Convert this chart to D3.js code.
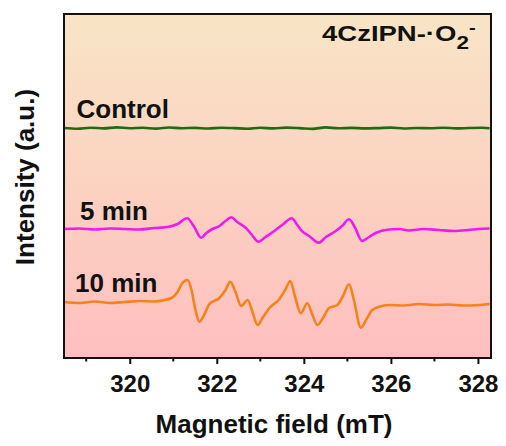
<!DOCTYPE html>
<html>
<head>
<meta charset="utf-8">
<script src="https://cdn.jsdelivr.net/npm/d3@7"></script>
<style>
  body { margin: 0; background: #fff; }
  svg text { font-family: "Liberation Sans", Arial, sans-serif; font-weight: bold; }
</style>
</head>
<body>
<div id="chart"></div>
<script>
// === DATA ===
const seriesNames = ["Control", "5 min", "10 min"];
const seriesColors = ["#1e6b12", "#ee1bee", "#f5821a"];

const controlField = [318.49, 318.8, 319.1, 319.4, 319.7, 320.0, 320.3, 320.6, 320.9, 321.2, 321.5, 321.8, 322.1,
  322.4, 322.7, 323.0, 323.3, 323.6, 323.9, 324.2, 324.5, 324.8, 325.1, 325.4, 325.7, 326.0, 326.3, 326.6,
  326.9, 327.2, 327.5, 327.8, 328.1, 328.27];
const controlValue = [230, 229.3, 230.3, 229.6, 230.6, 229.8, 230.2, 229.4, 230.5, 229.8, 230.1, 229.5, 230.3,
  229.9, 229.2, 230.2, 229.6, 230.4, 229.9, 229.1, 230.6, 229.7, 230.1, 229.6, 229.9, 230.4, 229.5, 230.0,
  229.7, 230.3, 229.6, 230.0, 230.2, 229.8];

const min5Field = [318.49, 318.85, 319.2, 319.54, 319.89, 320.23, 320.57, 320.87, 321.1, 321.32, 321.47, 321.64,
  321.76, 321.9, 322.06, 322.2, 322.33, 322.47, 322.67, 322.79, 322.96, 323.12, 323.32, 323.53, 323.72, 323.85,
  323.97, 324.12, 324.34, 324.51, 324.7, 324.88, 325.04, 325.18, 325.34, 325.5, 325.65, 325.96, 326.19, 326.41,
  326.76, 327.1, 327.45, 327.79, 328.02, 328.27];
const min5Value = [129, 129.5, 128.5, 129.5, 129, 128.5, 130, 131, 134, 139.7, 132, 120.3,
  125, 129, 132, 137, 140.7, 136, 130, 124, 116.3, 121, 127, 134, 139.7, 133,
  126.3, 122, 115.3, 121, 126, 132, 138.7, 130, 117, 121, 125, 128.5, 129, 127.5,
  129, 128, 127, 128, 129, 129.5];

const min10Field = [318.49, 318.85, 319.2, 319.54, 319.89, 320.23, 320.57, 320.8, 320.96, 321.1, 321.21, 321.33,
  321.42, 321.51, 321.6, 321.72, 321.83, 322.06, 322.2, 322.31, 322.43, 322.56, 322.71, 322.82, 322.94, 323.05,
  323.21, 323.44, 323.57, 323.69, 323.8, 323.93, 324.08, 324.19, 324.31, 324.44, 324.58, 324.77, 324.9, 325.04,
  325.15, 325.31, 325.43, 325.57, 325.73, 325.96, 326.3, 326.64, 326.99, 327.33, 327.67, 328.02, 328.27];
const min10Value = [56, 55, 56.5, 55, 56, 57, 56.5, 58, 60, 66, 75, 78,
  68, 48, 36.3, 44, 54, 60, 68, 76.3, 66, 52, 58, 46, 33, 40,
  50, 59, 68, 77, 61, 44.7, 54.7, 44, 33, 40, 50, 53, 62, 73.7,
  58, 30.3, 38, 48, 51.3, 53, 52.5, 54, 53, 53.5, 52.5, 53, 54];

const xTicks = [320, 322, 324, 326, 328];
const xMinorTicks = [319, 321, 323, 325, 327];

// === LAYOUT ===
const width = 506, height = 446;
const margin = { top: 14, right: 15, bottom: 88, left: 64 };
const innerW = width - margin.left - margin.right;
const innerH = height - margin.top - margin.bottom;

const svg = d3.select("#chart").append("svg")
  .attr("width", width)
  .attr("height", height);

const x = d3.scaleLinear().domain([318.49, 328.3]).range([0, innerW]);
const y = d3.scaleLinear().domain([0, 344]).range([innerH, 0]);

// background gradient
const defs = svg.append("defs");
const grad = defs.append("linearGradient")
  .attr("id", "bg-grad")
  .attr("x1", 0).attr("y1", 0).attr("x2", 0).attr("y2", 1);
grad.append("stop").attr("offset", "0%").attr("stop-color", "#f8e5c5");
grad.append("stop").attr("offset", "50%").attr("stop-color", "#fbd2c1");
grad.append("stop").attr("offset", "100%").attr("stop-color", "#ffbfbf");

const g = svg.append("g").attr("transform", `translate(${margin.left},${margin.top})`);

g.append("rect")
  .attr("width", innerW)
  .attr("height", innerH)
  .attr("fill", "url(#bg-grad)");

// === LINES ===
const line = d3.line()
  .x(d => x(d[0]))
  .y(d => y(d[1]))
  .curve(d3.curveMonotoneX);

const allSeries = [
  d3.zip(controlField, controlValue),
  d3.zip(min5Field, min5Value),
  d3.zip(min10Field, min10Value)
];

g.selectAll(".spectrum")
  .data(allSeries)
  .join("path")
  .attr("class", "spectrum")
  .attr("d", line)
  .attr("fill", "none")
  .attr("stroke", (d, i) => seriesColors[i])
  .attr("stroke-width", 2.6)
  .attr("stroke-linejoin", "round");

// series labels
const labelPos = [[12.5, 104.3], [16, 206], [11, 277.7]];
g.selectAll(".series-label")
  .data(seriesNames)
  .join("text")
  .attr("class", "series-label")
  .attr("x", (d, i) => labelPos[i][0])
  .attr("y", (d, i) => labelPos[i][1])
  .attr("font-size", "26px")
  .attr("fill", "#111")
  .text(d => d);

// title in corner (glyphs are drawn wide in the original)
const title = g.append("text")
  .attr("transform", "translate(258,26.7) scale(1.25,1)")
  .attr("font-size", "22px")
  .attr("fill", "#111");
title.append("tspan").text("4CzIPN-·O");
title.append("tspan").attr("font-size", "18px").attr("dy", 8).text("2");
title.append("tspan").attr("font-size", "16px").attr("dy", -16).text("-");

// === AXES ===
const xAxis = g.append("g")
  .attr("transform", `translate(0,${innerH})`)
  .call(d3.axisBottom(x).tickValues(xTicks).tickSize(6).tickPadding(11).tickFormat(d3.format("d")));
xAxis.select(".domain").remove();
xAxis.selectAll("line").attr("stroke", "#111").attr("stroke-width", 2);
xAxis.selectAll("text")
  .attr("font-size", "24px")
  .attr("fill", "#111")
  .style("font-family", "'Liberation Sans', Arial, sans-serif")
  .style("font-weight", "bold");

g.append("g")
  .attr("transform", `translate(0,${innerH})`)
  .selectAll("line")
  .data(xMinorTicks)
  .join("line")
  .attr("x1", d => x(d)).attr("x2", d => x(d))
  .attr("y1", 0).attr("y2", 3.5)
  .attr("stroke", "#111")
  .attr("stroke-width", 2);

// frame
g.append("rect")
  .attr("width", innerW)
  .attr("height", innerH)
  .attr("fill", "none")
  .attr("stroke", "#111")
  .attr("stroke-width", 2);

// axis titles
svg.append("text")
  .attr("x", 274)
  .attr("y", 433)
  .attr("text-anchor", "middle")
  .attr("font-size", "26px")
  .attr("fill", "#111")
  .text("Magnetic field (mT)");

svg.append("text")
  .attr("transform", "translate(34,177) rotate(-90)")
  .attr("text-anchor", "middle")
  .attr("font-size", "26px")
  .attr("fill", "#111")
  .text("Intensity (a.u.)");
</script>
</body>
</html>
